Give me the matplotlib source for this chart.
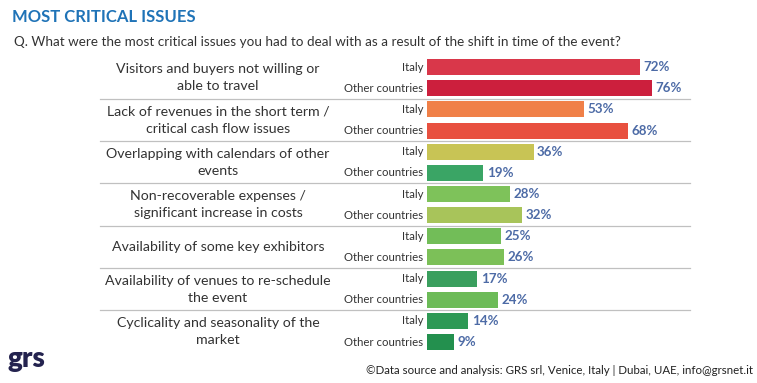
import matplotlib.pyplot as plt

plt.rcParams['font.family'] = ['Lato', 'DejaVu Sans']

# data
issues = [
    "Visitors and buyers not willing or\nable to travel",
    "Lack of revenues in the short term /\ncritical cash flow issues",
    "Overlapping with calendars of other\nevents",
    "Non-recoverable expenses /\nsignificant increase in costs",
    "Availability of some key exhibitors",
    "Availability of venues to re-schedule\nthe event",
    "Cyclicality and seasonality of the\nmarket",
]
series_names = ["Italy", "Other countries"]
italy = [72, 53, 36, 28, 25, 17, 14]
other = [76, 68, 19, 32, 26, 24, 9]
italy_colors = ['#d9374a', '#f08048', '#c8c455', '#7ec25a', '#72bd58', '#3a9f5e', '#2e9955']
other_colors = ['#cc1f3d', '#e8503f', '#3aa565', '#a8c45a', '#7cc058', '#6cbb58', '#23904e']

fig = plt.figure(figsize=(7.57, 3.83), dpi=100)
ax = fig.add_axes([427/757, 1 - 352.6/383, 296/757, 296/383])

for i in range(len(issues)):
    for j, (vals, cols) in enumerate([(italy, italy_colors), (other, other_colors)]):
        y = 2*i + j
        ax.barh(y, vals[i], height=0.76, color=cols[i], edgecolor='none')
        ax.text(vals[i] + 1.2, y, f"{vals[i]}%", va='center', ha='left',
                fontsize=9.6, fontweight='bold', color='#4d6ba6')
        ax.text(-1.2, y, series_names[j], va='center', ha='right',
                fontsize=8.2, color='#333333')
    ax.text(-70.6, 2*i + 0.5, issues[i], va='center', ha='center',
            fontsize=10.2, color='#333333', linespacing=1.5)

for i in range(len(issues) - 1):
    ax.plot([-110.5, 89], [2*i + 1.5, 2*i + 1.5], color='#c0c0c0', lw=0.9,
            clip_on=False)

ax.set_xlim(0, 100)
ax.set_ylim(13.5, -0.5)
ax.axis('off')

fig.text(12/757, 1 - 17/383, "MOST CRITICAL ISSUES", fontsize=12, fontweight='bold',
         color='#1f73b7', va='center', ha='left')
fig.text(14/757, 1 - 42/383,
         "Q. What were the most critical issues you had to deal with as a result of the shift in time of the event?",
         fontsize=9.7, color='#333333', va='center', ha='left')
fig.text(753/757, 1 - 371/383,
         "\u00a9Data source and analysis: GRS srl, Venice, Italy | Dubai, UAE, info@grsnet.it",
         fontsize=8.3, color='#222222', va='center', ha='right')
fig.text(7/757, 1 - 359/383, "grs", fontsize=20, fontweight='heavy',
         color='#24234f', va='center', ha='left')

fig.savefig('out.png', dpi=100, facecolor='white')
